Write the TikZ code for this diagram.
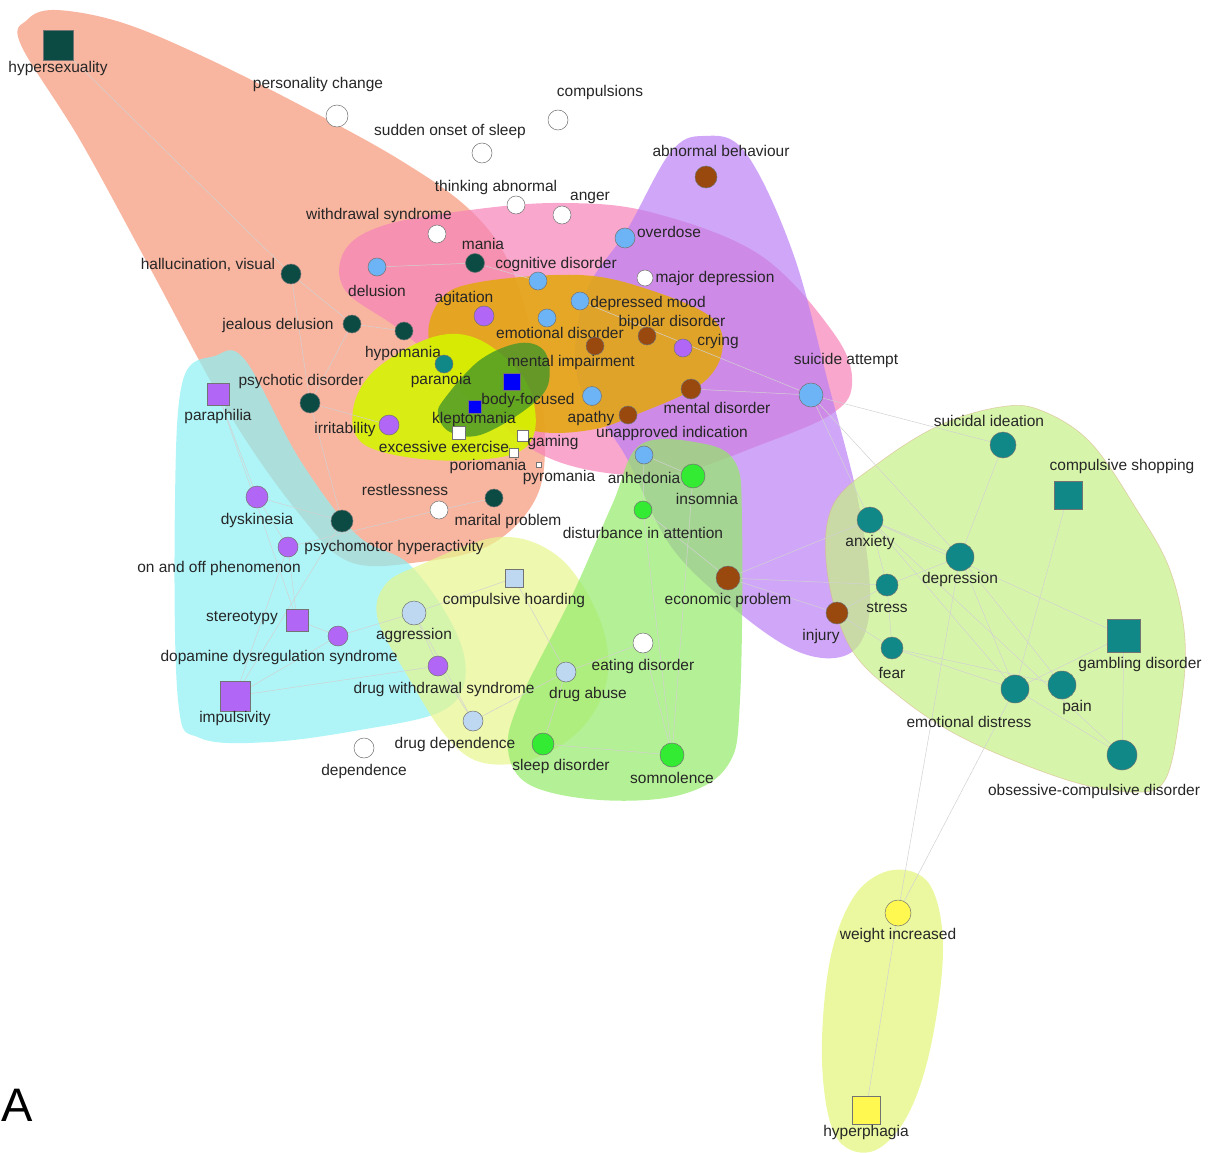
\documentclass[tikz,border=0pt]{standalone}
\usepackage{fontspec}
\newfontfamily\lbf{Liberation Sans}
\usetikzlibrary{backgrounds}
\pgfdeclarelayer{blobs}
\pgfdeclarelayer{edges}
\pgfsetlayers{blobs,edges,main}
% node colours
\definecolor{darkteal}{RGB}{12,74,68}
\definecolor{tealc}{RGB}{16,136,136}
\definecolor{lblue}{RGB}{108,180,245}
\definecolor{pblue}{RGB}{190,216,242}
\definecolor{purp}{RGB}{178,102,245}
\definecolor{brownc}{RGB}{153,72,14}
\definecolor{greenc}{RGB}{50,235,50}
\definecolor{bluec}{RGB}{0,0,250}
\definecolor{yellc}{RGB}{255,248,80}
% blob colours
\definecolor{bsalmon}{RGB}{245,150,120}
\definecolor{bpink}{RGB}{246,130,184}
\definecolor{bpurple}{RGB}{186,125,245}
\definecolor{bgold}{RGB}{228,168,10}
\definecolor{bchart}{RGB}{214,244,0}
\definecolor{bdgreen}{RGB}{70,150,40}
\definecolor{bcyan}{RGB}{141,241,245}
\definecolor{bpyell}{RGB}{231,245,141}
\definecolor{bgreen}{RGB}{148,234,105}
\definecolor{blime}{RGB}{198,241,134}
\definecolor{byell}{RGB}{226,245,119}
\begin{document}
\begin{tikzpicture}[x=1pt,y=-1pt,
  dot/.style={circle,inner sep=0pt,minimum size=#1,draw=black!55,line width=0.5pt},
  box/.style={rectangle,inner sep=0pt,minimum size=#1,draw=black!55,line width=0.5pt},
  lb/.style={font=\lbf\fontsize{15.5}{17}\selectfont,text=black!85,inner sep=0pt},
  edge/.style={draw=black!18,line width=0.5pt},
  blob/.style={fill=#1,fill opacity=0.7,draw=none}]
\useasboundingbox (0,0) rectangle (1208,1153);

% ---------------- nodes ----------------
\node[box=30,fill=darkteal] (hyp) at (58,45) {};
\node[lb] (l-hyp) at (58,68) {hypersexuality};
\node[dot=22,fill=white] (perch) at (337,116) {};
\node[lb] (l-perch) at (318,84) {personality change};
\node[dot=20,fill=white] (compul) at (558,120) {};
\node[lb] (l-compul) at (600,92) {compulsions};
\node[dot=20,fill=white] (sudden) at (482,153) {};
\node[lb] (l-sudden) at (450,131) {sudden onset of sleep};
\node[dot=22,fill=brownc] (abnb) at (706,177) {};
\node[lb] (l-abnb) at (721,151) {abnormal behaviour};
\node[dot=18,fill=white] (think) at (516,205) {};
\node[lb] (l-think) at (496,187) {thinking abnormal};
\node[dot=18,fill=white] (anger) at (562,215) {};
\node[lb] (l-anger) at (590,198) {anger};
\node[dot=18,fill=white] (withd) at (437,234) {};
\node[lb] (l-withd) at (379,215) {withdrawal syndrome};
\node[dot=20,fill=lblue] (overd) at (625,238) {};
\node[lb] (l-overd) at (669,232) {overdose};
\node[dot=19,fill=darkteal] (mania) at (475,263) {};
\node[lb] (l-mania) at (483,244) {mania};
\node[dot=20,fill=darkteal] (hallu) at (291,274) {};
\node[lb] (l-hallu) at (208,265) {hallucination, visual};
\node[dot=18,fill=lblue] (delus) at (377,267) {};
\node[lb] (l-delus) at (377,291) {delusion};
\node[dot=18,fill=lblue] (cogn) at (538,281) {};
\node[lb] (l-cogn) at (556,264) {cognitive disorder};
\node[dot=16,fill=white] (majdep) at (645,278) {};
\node[lb] (l-majdep) at (715,278) {major depression};
\node[dot=20,fill=purp] (agit) at (484,316) {};
\node[lb] (l-agit) at (464,298) {agitation};
\node[dot=18,fill=lblue] (depmood) at (580,301) {};
\node[lb] (l-depmood) at (648,303) {depressed mood};
\node[dot=18,fill=darkteal] (jeal) at (352,324) {};
\node[lb] (l-jeal) at (278,325) {jealous delusion};
\node[dot=18,fill=lblue] (emodis) at (547,318) {};
\node[lb] (l-emodis) at (560,333) {emotional disorder};
\node[dot=18,fill=darkteal] (hypom) at (404,331) {};
\node[lb] (l-hypom) at (403,353) {hypomania};
\node[dot=18,fill=brownc] (bipol) at (647,336) {};
\node[lb] (l-bipol) at (672,322) {bipolar disorder};
\node[dot=18,fill=purp] (cry) at (683,348) {};
\node[lb] (l-cry) at (718,341) {crying};
\node[dot=18,fill=brownc] (mentimp) at (595,346) {};
\node[lb] (l-mentimp) at (571,362) {mental impairment};
\node[dot=18,fill=tealc] (paran) at (444,364) {};
\node[lb] (l-paran) at (441,380) {paranoia};
\node[box=17,fill=bluec] (bodyf) at (512,382) {};
\node[lb] (l-bodyf) at (528,400) {body-focused};
\node[box=13,fill=bluec] (klept) at (475,407) {};
\node[lb] (l-klept) at (474,419) {kleptomania};
\node[dot=20,fill=darkteal] (psych) at (310,403) {};
\node[lb] (l-psych) at (301,381) {psychotic disorder};
\node[box=22,fill=purp] (paraph) at (218,394) {};
\node[lb] (l-paraph) at (218,416) {paraphilia};
\node[dot=24,fill=lblue] (suiatt) at (811,395) {};
\node[lb] (l-suiatt) at (846,360) {suicide attempt};
\node[dot=20,fill=brownc] (mentdis) at (691,389) {};
\node[lb] (l-mentdis) at (717,408) {mental disorder};
\node[dot=19,fill=lblue] (apathyb) at (592,396) {};
\node[dot=18,fill=brownc] (apathy) at (628,415) {};
\node[lb] (l-apathy) at (591,418) {apathy};
\node[lb] (l-unappr) at (672,433) {unapproved indication};
\node[dot=20,fill=purp] (irrit) at (389,425) {};
\node[lb] (l-irrit) at (345,429) {irritability};
\node[box=13,fill=white] (exex) at (459,433) {};
\node[lb] (l-exex) at (444,447) {excessive exercise};
\node[box=11,fill=white] (gaming) at (523,436) {};
\node[lb] (l-gaming) at (553,442) {gaming};
\node[box=9,fill=white] (porio) at (514,453) {};
\node[lb] (l-porio) at (488,466) {poriomania};
\node[box=5,fill=white] (pyro) at (539,465) {};
\node[lb] (l-pyro) at (559,477) {pyromania};
\node[dot=18,fill=lblue] (anhed) at (644,455) {};
\node[lb] (l-anhed) at (644,478) {anhedonia};
\node[dot=24,fill=greenc] (insom) at (693,476) {};
\node[lb] (l-insom) at (707,499) {insomnia};
\node[dot=26,fill=tealc] (suiid) at (1003,445) {};
\node[lb] (l-suiid) at (989,421) {suicidal ideation};
\node[box=28,fill=tealc] (compshop) at (1068,495) {};
\node[lb] (l-compshop) at (1122,466) {compulsive shopping};
\node[dot=18,fill=white] (restl) at (439,510) {};
\node[lb] (l-restl) at (405,490) {restlessness};
\node[dot=18,fill=darkteal] (marital) at (494,498) {};
\node[lb] (l-marital) at (508,521) {marital problem};
\node[dot=22,fill=purp] (dysk) at (257,497) {};
\node[lb] (l-dysk) at (257,520) {dyskinesia};
\node[dot=22,fill=darkteal] (darkx) at (342,521) {};
\node[dot=18,fill=greenc] (disatt) at (643,510) {};
\node[lb] (l-disatt) at (643,533) {disturbance in attention};
\node[dot=26,fill=tealc] (anx) at (870,520) {};
\node[lb] (l-anx) at (870,542) {anxiety};
\node[dot=28,fill=tealc] (depr) at (960,557) {};
\node[lb] (l-depr) at (960,579) {depression};
\node[dot=20,fill=purp] (psymot) at (288,547) {};
\node[lb] (l-psymot) at (394,547) {psychomotor hyperactivity};
\node[lb] (l-onoff) at (219,568) {on and off phenomenon};
\node[box=18,fill=pblue] (chord) at (514,578) {};
\node[lb] (l-chord) at (514,600) {compulsive hoarding};
\node[dot=24,fill=brownc] (econ) at (728,578) {};
\node[lb] (l-econ) at (728,600) {economic problem};
\node[dot=22,fill=tealc] (stress) at (887,585) {};
\node[lb] (l-stress) at (887,608) {stress};
\node[box=22,fill=purp] (stereo) at (297,620) {};
\node[lb] (l-stereo) at (242,618) {stereotypy};
\node[dot=24,fill=pblue] (aggr) at (414,613) {};
\node[lb] (l-aggr) at (414,635) {aggression};
\node[dot=20,fill=purp] (dopa) at (338,636) {};
\node[lb] (l-dopa) at (279,657) {dopamine dysregulation syndrome};
\node[dot=22,fill=brownc] (injury) at (837,613) {};
\node[lb] (l-injury) at (821,636) {injury};
\node[box=33,fill=tealc] (gamb) at (1124,636) {};
\node[lb] (l-gamb) at (1140,664) {gambling disorder};
\node[dot=22,fill=tealc] (fear) at (892,648) {};
\node[lb] (l-fear) at (892,673) {fear};
\node[dot=20,fill=white] (eatdis) at (643,643) {};
\node[lb] (l-eatdis) at (643,666) {eating disorder};
\node[dot=20,fill=purp] (drugw) at (438,666) {};
\node[lb] (l-drugw) at (444,689) {drug withdrawal syndrome};
\node[dot=20,fill=pblue] (drugab) at (566,672) {};
\node[lb] (l-drugab) at (588,694) {drug abuse};
\node[box=30,fill=purp] (impuls) at (235,696) {};
\node[lb] (l-impuls) at (235,718) {impulsivity};
\node[dot=28,fill=tealc] (emodist) at (1015,689) {};
\node[lb] (l-emodist) at (969,722) {emotional distress};
\node[dot=28,fill=tealc] (pain) at (1062,685) {};
\node[lb] (l-pain) at (1077,707) {pain};
\node[dot=20,fill=pblue] (drugdep) at (473,721) {};
\node[lb] (l-drugdep) at (455,744) {drug dependence};
\node[dot=22,fill=greenc] (sleepd) at (543,744) {};
\node[lb] (l-sleepd) at (561,766) {sleep disorder};
\node[dot=20,fill=white] (depend) at (364,748) {};
\node[lb] (l-depend) at (364,771) {dependence};
\node[dot=24,fill=greenc] (somno) at (672,755) {};
\node[lb] (l-somno) at (672,778) {somnolence};
\node[dot=30,fill=tealc] (ocd) at (1122,755) {};
\node[lb] (l-ocd) at (1094,791) {obsessive-compulsive disorder};
\node[dot=26,fill=yellc] (weight) at (898,913) {};
\node[lb] (l-weight) at (898,935) {weight increased};
\node[box=28,fill=yellc] (hyperph) at (866,1110) {};
\node[lb] (l-hyperph) at (866,1132) {hyperphagia};
\node[font=\lbf\fontsize{47}{50}\selectfont,inner sep=0pt] (lA) at (17,1105) {A};

% ---------------- blobs ----------------
\begin{pgfonlayer}{blobs}
\fill[blob=bsalmon] plot[smooth cycle,tension=0.6] coordinates {
 (21,45) (27,20) (55,10) (120,22) (200,55) (300,105) (400,160) (470,210)
 (510,265) (535,350) (545,440) (535,500) (490,545) (420,562) (350,562)
 (300,515) (230,415) (150,268) (80,140)};
\fill[blob=bpink] plot[smooth cycle,tension=0.6] coordinates {
 (345,250) (385,225) (470,210) (560,203) (650,212) (760,255) (835,335)
 (852,385) (830,415) (760,445) (680,472) (600,472) (530,448) (470,390)
 (400,330) (345,290)};
\fill[blob=bpurple,fill opacity=0.68] plot[smooth cycle,tension=0.6] coordinates {
 (703,136) (745,152) (793,253) (830,390) (858,500) (870,590) (862,640)
 (835,658) (790,648) (730,605) (670,545) (625,455) (578,380) (585,295)
 (627,230) (670,153)};
\fill[blob=bgold,fill opacity=0.85] plot[smooth cycle,tension=0.6] coordinates {
 (440,300) (480,282) (580,275) (650,290) (712,318) (722,352) (700,385)
 (640,413) (590,430) (530,430) (470,400) (430,345)};
\fill[blob=bchart,fill opacity=0.88] plot[smooth cycle,tension=0.6] coordinates {
 (433,337) (480,340) (525,380) (535,430) (510,455) (433,460) (365,445)
 (353,410) (375,370)};
\fill[blob=bdgreen,fill opacity=0.8] plot[smooth cycle,tension=0.6] coordinates {
 (445,398) (480,360) (520,343) (545,352) (548,385) (525,410) (480,435)
 (450,432) (438,415)};
\fill[blob=bcyan] plot[smooth cycle,tension=0.6] coordinates {
 (183,380) (215,356) (245,360) (300,460) (357,535) (410,565) (455,630)
 (465,680) (440,712) (360,730) (270,742) (200,738) (178,700) (175,500)};
\fill[blob=bpyell] plot[smooth cycle,tension=0.6] coordinates {
 (420,565) (500,537) (560,558) (600,620) (607,680) (580,730) (530,760)
 (480,762) (445,735) (410,680) (378,620) (385,585)};
\fill[blob=bgreen] plot[smooth cycle,tension=0.6] coordinates {
 (640,445) (700,443) (735,462) (742,520) (740,700) (728,765) (680,795)
 (600,800) (530,785) (508,750) (520,700) (570,600) (612,505)};
\filldraw[blob=blime,draw=brown!60,draw opacity=0.6,line width=0.6pt] plot[smooth cycle,tension=0.6] coordinates {
 (833,505) (880,462) (940,425) (1000,407) (1040,410) (1090,442) (1137,510)
 (1170,570) (1185,640) (1180,713) (1165,780) (1133,792) (1067,780)
 (967,740) (900,697) (850,647) (827,570)};
\fill[blob=byell] plot[smooth cycle,tension=0.6] coordinates {
 (893,870) (930,885) (943,950) (930,1050) (905,1120) (870,1152) (835,1135)
 (822,1060) (830,960) (855,895)};
\end{pgfonlayer}

% ---------------- edges ----------------
\begin{pgfonlayer}{edges}
\foreach \a/\b in {hyp/hallu, hallu/psych, jeal/psych, hallu/jeal, jeal/hypom,
  psych/darkx, psych/irrit, paraph/dysk, paraph/stereo, dysk/psymot,
  psymot/stereo, stereo/dopa, dopa/aggr, dopa/impuls, impuls/drugw,
  drugw/aggr, drugw/drugdep, drugdep/drugab, drugab/chord, drugab/sleepd,
  sleepd/somno, somno/disatt, somno/insom, insom/anhed, disatt/anhed,
  econ/injury, econ/disatt, suiatt/suiid, suiatt/anx, suiatt/depr,
  suiatt/mentdis, suiatt/depmood, anx/depr, anx/stress, anx/emodist,
  anx/ocd, anx/gamb, stress/fear, stress/depr, fear/emodist, fear/pain,
  depr/emodist, depr/pain, suiid/depr, compshop/emodist, gamb/ocd,
  gamb/emodist, emodist/ocd, depr/weight, emodist/weight, weight/hyperph,
  injury/stress, injury/fear, delus/mania, mania/cogn, restl/marital,
  restl/psymot, darkx/dysk, chord/aggr, eatdis/drugab, eatdis/somno,
  aggr/drugdep, econ/anx, econ/stress, darkx/impuls, psymot/impuls}
  \draw[edge] (\a) -- (\b);
\end{pgfonlayer}
\end{tikzpicture}
\end{document}
